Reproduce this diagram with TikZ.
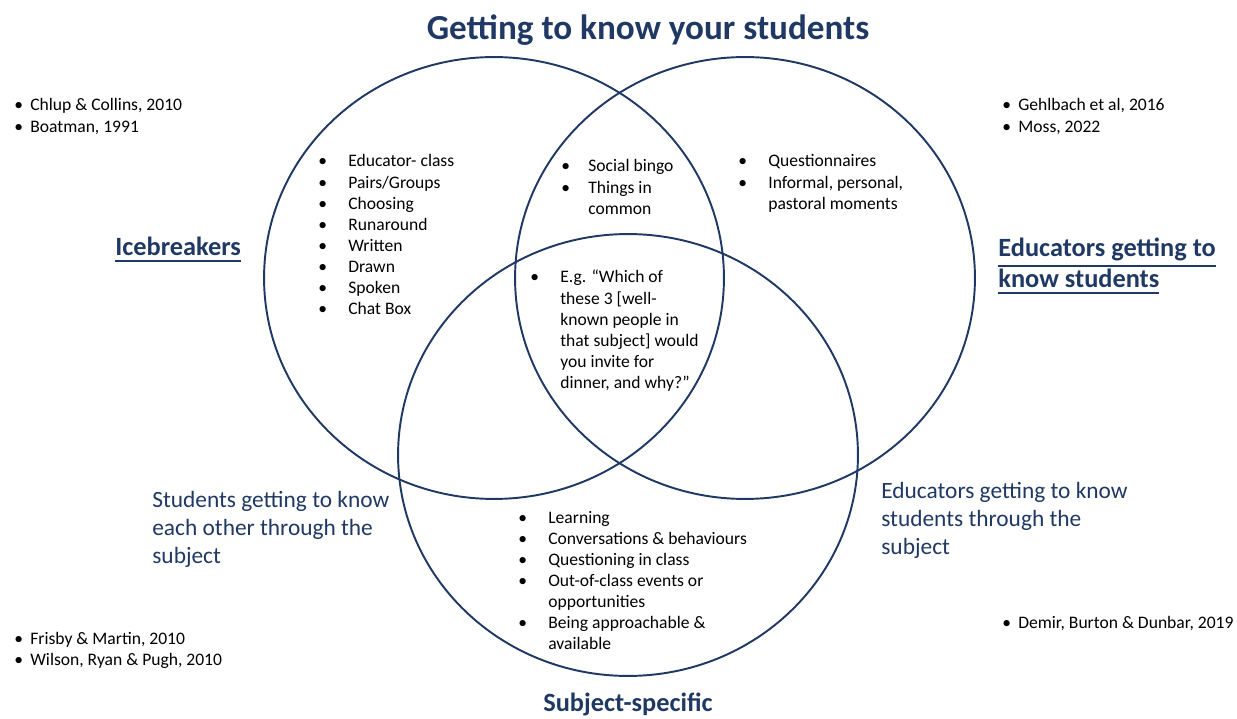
\documentclass[tikz,border=0pt]{standalone}
\usepackage{fontspec}
\setmainfont{Carlito}
\usetikzlibrary{shapes.geometric,positioning}
\definecolor{navy}{HTML}{1F3864}
\tikzset{
  ring/.style={ellipse,draw=navy,line width=1.1pt,inner sep=0pt,minimum width=9.2cm,minimum height=8.84cm},
  lst/.style={anchor=base west,inner sep=0pt,font=\fontsize{10}{12}\selectfont},
  head/.style={anchor=base west,inner sep=0pt,text=navy,font=\bfseries\fontsize{15}{17}\selectfont},
  sub/.style={anchor=base west,inner sep=0pt,text=navy,font=\fontsize{13.3}{16}\selectfont}
}
\newcommand{\bl}{\textbullet &}
\newcommand{\ulin}[1]{\vtop{\hbox{#1}\kern2.2pt\hrule height 1pt}}

\begin{document}
\begin{tikzpicture}[x=0.02cm,y=-0.02cm]
\useasboundingbox (0,0) rectangle (1237,719);

\node[ring] (ice)  at (494,278) {};
\node[ring] (edu)  at (745,278) {};
\node[ring] (subj) at (628,455) {};

\node[anchor=base,inner sep=0pt,text=navy,font=\bfseries\fontsize{20}{24}\selectfont] (title) at (648,40) {Getting to know your students};
\node[anchor=base,inner sep=0pt,text=navy,font=\bfseries\fontsize{15}{17}\selectfont] (subjhead) at (628,711) {Subject-specific};

\node[head] (icehead) at (115,256) {\ulin{Icebreakers}};
\node[head] (eduhead) at (998,257) {\begin{tabular}[t]{@{}l@{}}\ulin{Educators getting to}\\\ulin{know students}\end{tabular}};
\node[sub] (stuhead) at (152,507) {\begin{tabular}[t]{@{}l@{}}Students getting to know\\each other through the\\subject\end{tabular}};
\node[sub] (edusubhead) at (881,498) {\begin{tabular}[t]{@{}l@{}}Educators getting to know\\students through the\\subject\end{tabular}};

\node[lst] (iceref) at (14,111) {\begin{tabular}[t]{@{}p{0.32cm}@{}l@{}}
  \bl Chlup \& Collins, 2010\\ \bl Boatman, 1991\end{tabular}};
\node[lst] (eduref) at (1002,111) {\begin{tabular}[t]{@{}p{0.32cm}@{}l@{}}
  \bl Gehlbach et al, 2016\\ \bl Moss, 2022\end{tabular}};
\node[lst] (sturef) at (14,644) {\begin{tabular}[t]{@{}p{0.32cm}@{}l@{}}
  \bl Frisby \& Martin, 2010\\ \bl Wilson, Ryan \& Pugh, 2010\end{tabular}};
\node[lst] (subref) at (1002,628) {\begin{tabular}[t]{@{}p{0.32cm}@{}l@{}}
  \bl Demir, Burton \& Dunbar, 2019\end{tabular}};

\node[lst] (icelist) at (318,167) {\begin{tabular}[t]{@{}p{0.6cm}@{}l@{}}
  \bl Educator- class\\ \bl Pairs/Groups\\ \bl Choosing\\ \bl Runaround\\
  \bl Written\\ \bl Drawn\\ \bl Spoken\\ \bl Chat Box\end{tabular}};
\node[lst] (commonlist) at (561,172) {\begin{tabular}[t]{@{}p{0.54cm}@{}l@{}}
  \bl Social bingo\\ \bl Things in\\ & common\end{tabular}};
\node[lst] (edulist) at (738,167) {\begin{tabular}[t]{@{}p{0.6cm}@{}l@{}}
  \bl Questionnaires\\ \bl Informal, personal,\\ & pastoral moments\end{tabular}};
\node[lst] (midlist) at (530,283) {\begin{tabular}[t]{@{}p{0.6cm}@{}l@{}}
  \bl E.g. ``Which of\\ & these 3 [well-\\ & known people in\\ & that subject] would\\
  & you invite for\\ & dinner, and why?''\end{tabular}};
\node[lst] (subjlist) at (518,523) {\begin{tabular}[t]{@{}p{0.6cm}@{}l@{}}
  \bl Learning\\ \bl Conversations \& behaviours\\ \bl Questioning in class\\
  \bl Out-of-class events or\\ & opportunities\\ \bl Being approachable \&\\ & available\end{tabular}};
\end{tikzpicture}
\end{document}
